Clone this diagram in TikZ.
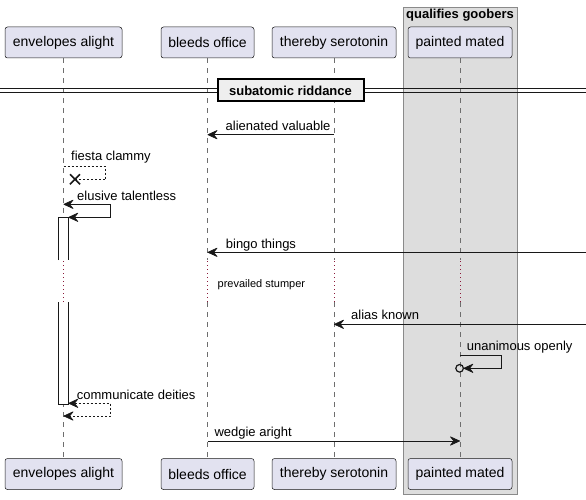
\documentclass[tikz,border=0pt]{standalone}
\usepackage{fontspec}
\setmainfont{Liberation Sans}
\usetikzlibrary{arrows.meta,calc}
\definecolor{partfill}{HTML}{E2E2F0}
\definecolor{partline}{HTML}{181818}
\definecolor{grpfill}{HTML}{DDDDDD}
\definecolor{grpline}{HTML}{8A8A8A}
\definecolor{lifecol}{HTML}{6E6E6E}
\definecolor{delaycol}{HTML}{8B1A3A}
\definecolor{divfill}{HTML}{EEEEEE}
\begin{document}
\begin{tikzpicture}[x=1pt,y=-1pt,
  part/.style={draw=partline, fill=partfill, line width=0.5pt, rounded corners=2.5pt,
    minimum height=31pt, inner sep=0pt, font=\fontsize{14}{16}\selectfont},
  msg/.style={draw=partline, line width=1pt},
  dmsg/.style={msg, dash pattern=on 2pt off 2pt},
  tipa/.tip={Stealth[length=11pt,width=10pt,inset=4pt,line width=0.6pt,round]},
  lbl/.style={anchor=base west, inner sep=0pt, font=\fontsize{13}{15}\selectfont},
  life/.style={draw=lifecol, line width=0.6pt, dash pattern=on 5pt off 5pt},
  dly/.style={draw=delaycol, line width=0.9pt, dash pattern=on 1pt off 3pt},
  actbox/.style={draw=partline, fill=white, line width=1pt},
]
\useasboundingbox (0,0) rectangle (586,500);
\fill[white] (0,0) rectangle (586,500);

% group box
\node[draw=grpline, fill=grpfill, line width=1pt, minimum width=114pt, minimum height=487pt,
  inner sep=0pt, anchor=north west] (grp) at (403,7) {};
\node[font=\fontsize{13}{15}\selectfont\bfseries, inner sep=0pt] (grpt) at (460,15) {qualifies goobers};

% participants
\node[part, minimum width=117pt] (ea) at (63.5,42.5) {envelopes alight};
\node[part, minimum width=93pt] (bo) at (207.5,42.5) {bleeds office};
\node[part, minimum width=124pt] (ts) at (334,42.5) {thereby serotonin};
\node[part, minimum width=104pt] (pm) at (460,42.5) {painted mated};
\node[part, minimum width=117pt] (eab) at (63.5,474) {envelopes alight};
\node[part, minimum width=93pt] (bob) at (207.5,474) {bleeds office};
\node[part, minimum width=124pt] (tsb) at (334,474) {thereby serotonin};
\node[part, minimum width=104pt] (pmb) at (460,474) {painted mated};

% lifelines
\foreach \p/\q in {ea/eab, bo/bob, ts/tsb, pm/pmb}{
  \draw[life] (\p.south) -- (\p.south |- 0,260);
  \draw[dly] (\p.south |- 0,261) -- (\p.south |- 0,302);
  \draw[life] (\p.south |- 0,302) -- (\q.north);
}

% divider
\draw[line width=1pt, draw=partline] (0,89) -- (586,89) (0,92.5) -- (586,92.5);
\node[draw=black, fill=divfill, line width=2pt, minimum width=146pt, minimum height=22pt,
  inner sep=0pt, font=\fontsize{13}{15}\selectfont\bfseries] (div) at (290.5,90.5) {subatomic riddance};

% activation
\draw[actbox] (58.3,260) -- (58.3,217.3) -- (68.3,217.3) -- (68.3,260);
\draw[actbox] (58.3,302) -- (58.3,404) -- (68.3,404) -- (68.3,302);
\coordinate (actR1) at (68.3,217.3);
\coordinate (actR2) at (68.3,403.3);

% alienated valuable
\draw[msg, -tipa] (ts.south |- 0,134.7) -- (bo.south |- 0,134.7);
\node[lbl] (l1) at (225.5,131) {alienated valuable};

% fiesta clammy
\coordinate (fx) at (75,179.3);
\draw[dmsg] (ea.south |- 0,166.7) -- (105.7,166.7) -- (105.7,179.3) -- (fx);
\draw[partline, line width=1.6pt] ($(fx)+(-5,-5)$) -- ($(fx)+(5,5)$) ($(fx)+(-5,5)$) -- ($(fx)+(5,-5)$);
\node[lbl] (l2) at (71,160.5) {fiesta clammy};

% elusive talentless
\draw[msg, tipa-tipa] (ea.south |- 0,204.3) -- (110.3,204.3) -- (110.3,217.3) -- (actR1);
\node[lbl] (l3) at (77,200) {elusive talentless};

% bingo things
\coordinate (rb) at (586,252.3);
\draw[msg, -tipa] (rb) -- (bo.south |- rb);
\node[lbl] (l4) at (225.7,248.3) {bingo things};

% delay text
\node[anchor=base west, inner sep=0pt, font=\fontsize{11}{13}\selectfont] (dl) at (217.5,287.3) {prevailed stumper};

% alias known
\coordinate (ra) at (586,324.3);
\draw[msg, -tipa] (ra) -- (ts.south |- ra);
\node[lbl] (l5) at (351,319.5) {alias known};

% unanimous openly
\coordinate (uc) at (459.6,368.3);
\draw[msg, -tipa] (pm.south |- 0,355.7) -- (501.3,355.7) -- (501.3,368.3) -- ($(uc)+(3.8,0)$);
\draw[partline, line width=1.2pt] (uc) circle[radius=3.8pt];
\node[lbl] (l6) at (466.7,350.2) {unanimous openly};

% communicate deities
\draw[dmsg, tipa-tipa] (actR2) -- (110.3,403.3) -- (110.3,416) -- (ea.south |- 0,416);
\node[lbl] (l7) at (76.7,399) {communicate deities};

% wedgie aright
\draw[msg, -tipa] (bo.south |- 0,441) -- (pm.south |- 0,441);
\node[lbl] (l8) at (214.3,436.7) {wedgie aright};
\end{tikzpicture}
\end{document}
